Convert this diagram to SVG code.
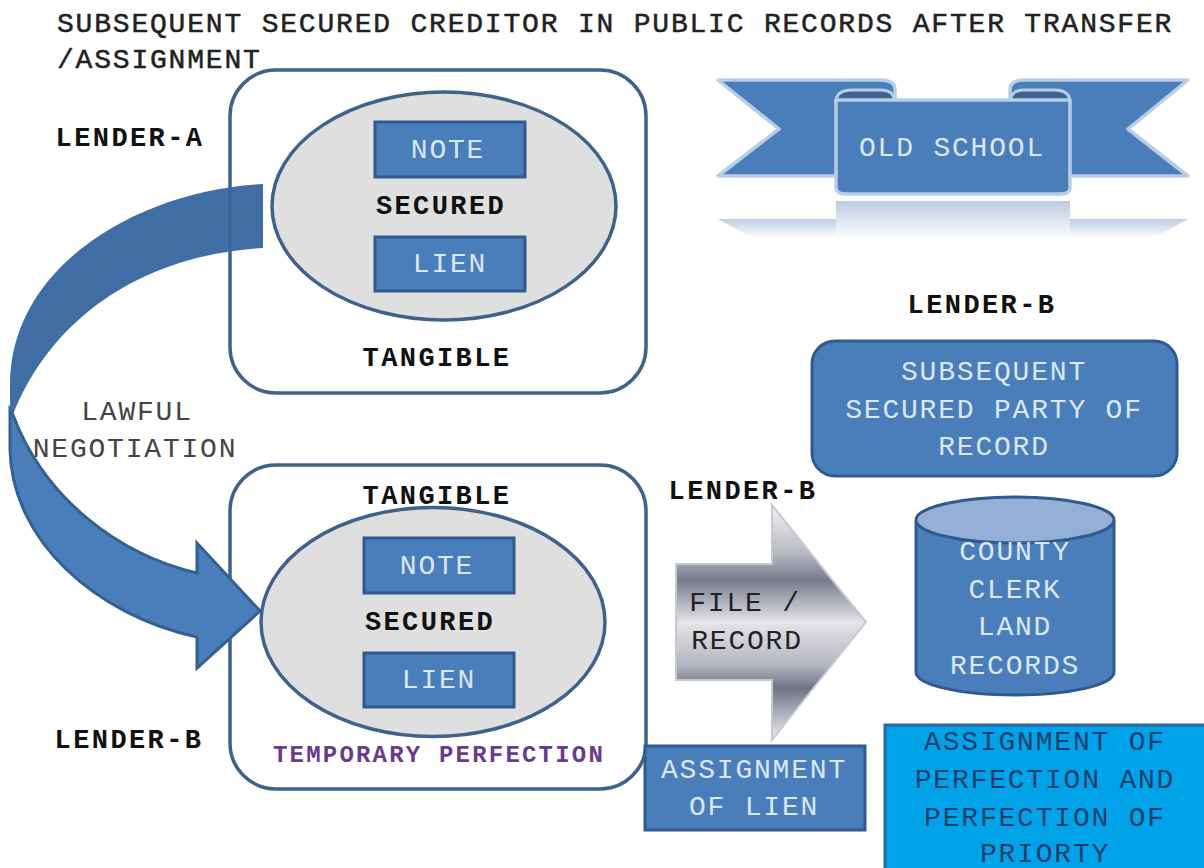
<svg xmlns="http://www.w3.org/2000/svg" width="1204" height="868" viewBox="0 0 1204 868">
<style>
text{font-family:"Liberation Mono","Courier New",monospace;font-size:28px;letter-spacing:1.8px;text-anchor:middle}
.b{fill:#111;font-weight:bold;font-size:27px;letter-spacing:2.4px}
.t{fill:#222;stroke:#222;stroke-width:.5;text-anchor:start}
.l{fill:#dbe7f3}
.d{fill:#444}
.k{fill:#1f3f6e}
.box{fill:#fff;stroke:#3f628c;stroke-width:3.5}
.el{fill:#dfdfdf;stroke:#3f628c;stroke-width:3.5}
.r{fill:#4a7ebb;stroke:#2f5a8f;stroke-width:3}
.tail{fill:#4a7ebb;stroke:#b9cde5;stroke-width:3.5;stroke-linejoin:round}
</style>
<defs>
<linearGradient id="steel" x1="0" y1="0" x2="0" y2="1">
<stop offset="0" stop-color="#f2f2f4"/><stop offset=".2" stop-color="#b9bbc4"/><stop offset=".32" stop-color="#777c8c"/><stop offset=".5" stop-color="#e4e4e8"/><stop offset=".68" stop-color="#b4b6c0"/><stop offset=".78" stop-color="#6f7486"/><stop offset="1" stop-color="#eeeef0"/>
</linearGradient>
<linearGradient id="refl" x1="0" y1="0" x2="0" y2="1">
<stop offset="0" stop-color="#bccde3"/><stop offset="1" stop-color="#fff"/>
</linearGradient>
</defs>
<rect width="1204" height="868" fill="#fff"/>
<g id="title">
<text class="t" x="57" y="32">SUBSEQUENT SECURED CREDITOR IN PUBLIC RECORDS AFTER TRANSFER</text>
<text class="t" x="57" y="68">/ASSIGNMENT</text>
</g>
<g id="tangible-a">
<rect class="box" x="230" y="70" width="416" height="323" rx="46"/>
<ellipse class="el" cx="444" cy="206" rx="172" ry="114"/>
<rect class="r" x="375" y="122" width="150" height="55"/>
<text class="l" x="448" y="158">NOTE</text>
<text class="b" x="441" y="214">SECURED</text>
<rect class="r" x="375" y="237" width="150" height="54"/>
<text class="l" x="450" y="272">LIEN</text>
<text class="b" x="437" y="366">TANGIBLE</text>
</g>
<g id="tangible-b">
<rect class="box" x="230" y="465" width="416" height="324" rx="46"/>
<ellipse class="el" cx="433" cy="622" rx="172" ry="114.5"/>
<rect class="r" x="364" y="538" width="150" height="55"/>
<text class="l" x="437" y="574">NOTE</text>
<text class="b" x="430" y="630">SECURED</text>
<rect class="r" x="364" y="653" width="150" height="54"/>
<text class="l" x="439" y="688">LIEN</text>
<text class="b" x="437" y="504">TANGIBLE</text>
<text x="439" y="762" style="fill:#6a3a8c;font-weight:bold;font-size:24px;letter-spacing:2.2px">TEMPORARY PERFECTION</text>
</g>
<g id="connectors">
<path d="M197,573 C120,555 45,500 13,415 L10,410 V450 C12,540 95,615 197,637 L197,668 L260,611 L197,543 Z" fill="#4a7ebb" stroke="#34608f" stroke-width="3" stroke-linejoin="miter"/>
<path d="M263,184 C140,190 10,265 10,385 V412 L13,415 C50,320 140,255 263,248 Z" fill="#36659f" fill-opacity=".95"/>
</g>
<text class="d" x="137" y="420">LAWFUL</text>
<text class="d" x="135" y="457">NEGOTIATION</text>
<g id="lender-labels">
<text class="b" x="130" y="146">LENDER-A</text>
<text class="b" x="982" y="313">LENDER-B</text>
<text class="b" x="743" y="499">LENDER-B</text>
<text class="b" x="129" y="748">LENDER-B</text>
</g>
<g id="old-school">
<path class="tail" d="M718,80 H880 Q895,80 895,90 V176 H718 L779,129 Z"/>
<path class="tail" d="M1188,80 H1024 Q1010,80 1010,90 V176 H1188 L1128,129 Z"/>
<path d="M836,102 Q836,90 852,90 H880 Q895,90 894,102 Z" fill="#3b6396" stroke="#b9cde5" stroke-width="3"/>
<path d="M1070,102 Q1070,90 1054,90 H1024 Q1010,90 1011,102 Z" fill="#3b6396" stroke="#b9cde5" stroke-width="3"/>
<path class="tail" d="M836,100 H1070 V188 Q1070,194 1060,194 H846 Q836,194 836,188 Z"/>
<text class="l" x="952" y="156">OLD SCHOOL</text>
<path d="M836,201 H1070 V240 H836 Z" fill="url(#refl)"/>
<path d="M718,219 H836 V238 H752 Z M1188,219 H1070 V238 H1154 Z" fill="url(#refl)"/>
</g>
<g id="secured-party">
<rect class="r" x="812" y="341" width="365" height="135" rx="23"/>
<text class="l" x="994" y="380">SUBSEQUENT</text>
<text class="l" x="994" y="418">SECURED PARTY OF</text>
<text class="l" x="994" y="455">RECORD</text>
</g>
<g id="file-record">
<path d="M676,564 H772 V505 L866,622 L772,740 V680 H676 Z" fill="url(#steel)" stroke="#c8c9cf" stroke-width="2"/>
<text x="745" y="611" style="fill:#222">FILE /</text>
<text x="747" y="649" style="fill:#222">RECORD</text>
</g>
<g id="county">
<path class="r" d="M916,522 V672 C916,685 960,695 1015,695 C1070,695 1114,685 1114,672 V522 Z"/>
<ellipse cx="1015" cy="520" rx="99" ry="23" fill="#94b0d6" stroke="#2f5a8f" stroke-width="3"/>
<text class="l" x="1015" y="560">COUNTY</text>
<text class="l" x="1015" y="598">CLERK</text>
<text class="l" x="1015" y="635">LAND</text>
<text class="l" x="1015" y="674">RECORDS</text>
</g>
<g id="assignment-lien">
<rect class="r" x="645" y="746" width="220" height="84"/>
<text class="l" x="754" y="778">ASSIGNMENT</text>
<text class="l" x="754" y="815">OF LIEN</text>
</g>
<g id="assignment-perfection">
<rect x="885" y="725" width="325" height="150" fill="#00a2e8" stroke="#34659e" stroke-width="3"/>
<text class="k" x="1045" y="750">ASSIGNMENT OF</text>
<text class="k" x="1045" y="788">PERFECTION AND</text>
<text class="k" x="1045" y="826">PERFECTION OF</text>
<text class="k" x="1045" y="862">PRIORTY</text>
</g>
</svg>
